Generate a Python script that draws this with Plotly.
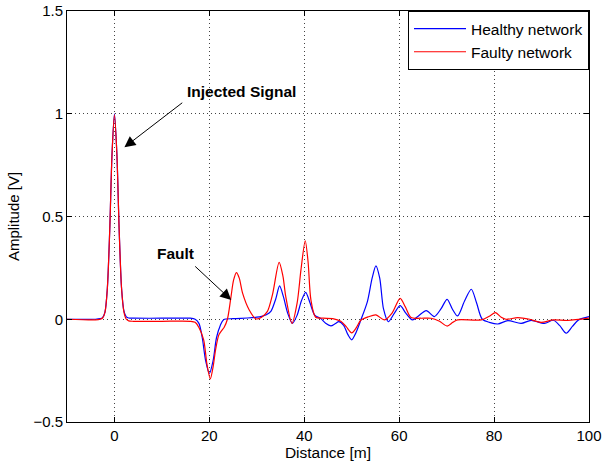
import plotly.graph_objects as go

# Healthy network (blue)
healthy_x = [-10, -4, -3, -2.5, -2, -1.5, -1, -0.5, 0, 0.5, 1, 1.5, 2, 2.5, 3, 4, 10, 16, 17,
             17.8, 18.5, 19.2, 20, 20.8, 21.5, 22.3, 23, 25, 28, 30, 31, 32, 33, 34, 34.8, 35.6,
             36.5, 37.5, 38.5, 39.4, 40.3, 41.2, 42.2, 43.5, 44.5, 45.6, 46.5, 47.3, 48.3, 49.2,
             50, 50.8, 51.9, 53.3, 54.3, 55.1, 55.9, 56.7, 57.7, 59, 60.2, 61.4, 62.8, 64, 65.7,
             67.4, 68.8, 70.1, 71.2, 72.3, 73.8, 75.2, 76.3, 77.5, 79, 80.8, 82.9, 85.7, 87.8,
             90.6, 92.5, 93.8, 95.2, 96.5, 97.8, 100]
healthy_y = [0.0, 0.0, 0.003, 0.008, 0.035, 0.15, 0.43, 0.81, 1.0, 0.81, 0.43, 0.15, 0.04, 0.012,
             0.006, 0.005, 0.005, 0.005, 0.0,
             -0.02, -0.09, -0.2, -0.264, -0.2, -0.09, -0.03, -0.002, 0.003, 0.006, 0.01, 0.014,
             0.022, 0.04, 0.1, 0.162, 0.11,
             0.03, -0.02, 0.02, 0.09, 0.131, 0.08, 0.02, 0.003, -0.02, -0.032, -0.022, -0.012,
             -0.03, -0.075,
             -0.1, -0.07, -0.005, 0.086, 0.2, 0.26, 0.2, 0.05, -0.012, 0.03, 0.066, 0.03, -0.003,
             0.015, 0.042,
             0.013, 0.05, 0.097, 0.05, 0.016, 0.09, 0.146, 0.08, 0.0, -0.015, -0.023, -0.007,
             -0.02, -0.005,
             -0.02, -0.005, -0.03, -0.068, -0.035, -0.003, 0.013]

# Faulty network (red)
faulty_x = [-10, -4, -3, -2.5, -2, -1.5, -1, -0.5, 0, 0.5, 1, 1.5, 2, 2.5, 3, 4, 10, 16, 17,
            17.8, 18.8, 19.5, 20.2, 20.8, 21.3, 22, 22.6, 23.1, 23.8, 24.5, 25.1, 25.7, 26.3, 27,
            28.4, 29.8, 31, 32.2, 33.3, 34.7, 35.5, 36.1, 37.4, 38.5, 39.3, 40.2, 40.8, 41.4,
            42.4, 44, 46, 47.7, 48.8, 50, 51, 51.9, 53.5, 55.1, 56.9, 58.5, 60.2, 61.3, 62.5,
            64.5, 66.7, 68.5, 70.1, 71.3, 72.3, 77.3, 79, 80.3, 81.5, 82.5, 85, 87.5, 89.9,
            92.5, 95.5, 100]
faulty_y = [0.0, -0.003, 0.0, 0.006, 0.033, 0.15, 0.43, 0.81, 0.995, 0.81, 0.43, 0.15, 0.035, 0.0,
            -0.008, -0.01, -0.01, -0.01, -0.015,
            -0.04, -0.1, -0.22, -0.29, -0.23, -0.15, -0.076, -0.055, -0.04, 0.0, 0.1, 0.19,
            0.227, 0.2, 0.127,
            0.045, 0.002, 0.01, 0.037, 0.12, 0.277, 0.21, 0.11, -0.02, 0.08, 0.24, 0.382, 0.28,
            0.094,
            0.01, 0.005, 0.003, -0.01, -0.035, -0.066, -0.04, -0.005, 0.012, 0.021, -0.003,
            0.03, 0.102, 0.06, 0.008,
            0.005, 0.005, -0.01, -0.033, -0.015, -0.003, -0.003, 0.015, 0.032, 0.01, 0.0,
            0.008, 0.0, -0.015,
            -0.003, -0.006, 0.005]

x_ticks = [0, 20, 40, 60, 80, 100]
y_ticks = [-0.5, 0, 0.5, 1, 1.5]
y_tick_labels = ["\u22120.5", "0", "0.5", "1", "1.5"]

FONT = "Liberation Sans, Arial, Helvetica, sans-serif"

fig = go.Figure()
fig.add_trace(go.Scatter(x=healthy_x, y=healthy_y, mode="lines", name="Healthy network",
                         line=dict(color="#0000ff", width=1.2, shape="spline", smoothing=0.8)))
fig.add_trace(go.Scatter(x=faulty_x, y=faulty_y, mode="lines", name="Faulty network",
                         line=dict(color="#ff0000", width=1.2, shape="spline", smoothing=0.8)))

axis_common = dict(
    showline=True, linecolor="black", linewidth=1, mirror="ticks",
    ticks="inside", ticklen=5, tickcolor="black", automargin=False,
    ticklabeloverflow="allow",
    showgrid=True, gridcolor="#444444", griddash="1px,3px", gridwidth=1,
    zeroline=False, tickfont=dict(family=FONT, size=15, color="black"),
)

fig.update_layout(
    width=602, height=467,
    margin=dict(l=67, r=13, t=11, b=45),
    plot_bgcolor="white", paper_bgcolor="white",
    font=dict(family=FONT, size=15, color="black"),
    xaxis=dict(range=[-10, 100], tickvals=x_ticks,
               title=dict(text="Distance [m]", font=dict(family=FONT, size=15.5), standoff=3),
               **axis_common),
    yaxis=dict(range=[-0.5, 1.5], tickvals=y_ticks, ticktext=y_tick_labels,
               title=dict(text="Amplitude [V]", font=dict(family=FONT, size=15), standoff=10),
               **axis_common),
    legend=dict(x=1, y=1, xanchor="right", yanchor="top",
                bordercolor="black", borderwidth=1, bgcolor="white",
                font=dict(family=FONT, size=15.5), tracegroupgap=0, itemwidth=52),
    showlegend=True,
)

# Arrows (head at x,y ; tail at ax,ay) in data coordinates
fig.add_annotation(x=2.1, y=0.837, ax=14.6, ay=1.059, xref="x", yref="y", axref="x", ayref="y",
                   text="", showarrow=True, arrowhead=2, arrowsize=2.2, arrowwidth=1,
                   arrowcolor="black")
fig.add_annotation(x=24.6, y=0.094, ax=16.7, ay=0.264, xref="x", yref="y", axref="x", ayref="y",
                   text="", showarrow=True, arrowhead=2, arrowsize=2.2, arrowwidth=1,
                   arrowcolor="black")
fig.add_annotation(x=26.7, y=1.106, xref="x", yref="y", text="<b>Injected Signal</b>",
                   showarrow=False, font=dict(family=FONT, size=15.5, color="black"))
fig.add_annotation(x=12.9, y=0.318, xref="x", yref="y", text="<b>Fault</b>",
                   showarrow=False, font=dict(family=FONT, size=15.5, color="black"))

fig.write_html("out.html", config={"displayModeBar": False},
               post_script="document.body.style.margin='0px';")
